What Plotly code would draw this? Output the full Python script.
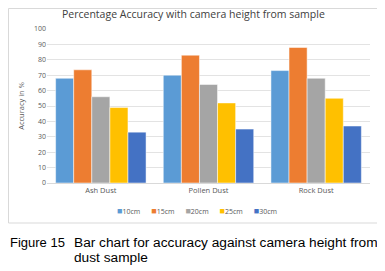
import plotly.graph_objects as go

categories = ["Ash Dust", "Pollen Dust", "Rock Dust"]
series_names = ["10cm", "15cm", "20cm", "25cm", "30cm"]
v10 = [68, 70, 73]
v15 = [73.5, 83, 88]
v20 = [56, 64, 68]
v25 = [49, 52, 55]
v30 = [33, 35, 37]
colors = ["#5B9BD5", "#ED7D31", "#A5A5A5", "#FFC000", "#4472C4"]

fig = go.Figure()
for name, vals, c in zip(series_names, [v10, v15, v20, v25, v30], colors):
    fig.add_trace(go.Bar(x=categories, y=vals, name=name, showlegend=False,
                         marker=dict(color=c, line=dict(color="white", width=0.5))))

# page has an 8px body margin, so the figure is drawn 8px smaller and offset
OFF = 8
W, H = 385 - OFF, 271 - OFF
L = 47 - OFF
T = 29 - OFF
R = 385 - 370
B = H - (183 - OFF)
pw = W - L - R
ph = H - T - B

def px2x(p):
    return (p - OFF - L) / pw

def py2y(p):
    return (H - B - (p - OFF)) / ph

legend_text = "&nbsp;" * 6
legend_text = legend_text.join(
    f"<span style='color:{c};font-size:9px'>■</span>{n}" for n, c in zip(series_names, colors))

cap_font = dict(family="Liberation Sans, Arial, sans-serif", size=13, color="black")
cap_font2 = dict(family="Liberation Sans, Arial, sans-serif", size=13.7, color="black")

fig.update_layout(
    width=W, height=H,
    margin=dict(l=L, r=R, t=T, b=B, autoexpand=False),
    paper_bgcolor="white", plot_bgcolor="white",
    barmode="group", bargap=0.16, bargroupgap=0,
    font=dict(family="Open Sans, Liberation Sans, sans-serif", color="#595959"),
    showlegend=False,
    xaxis=dict(tickfont=dict(size=7.5, color="#595959"), showline=True,
               linecolor="#d9d9d9", linewidth=1, ticks=""),
    yaxis=dict(range=[0, 100], dtick=10, tickfont=dict(size=7, color="#595959"),
               gridcolor="#e3e3e3", gridwidth=1, zeroline=False,
               title=dict(text="Accuracy in %", font=dict(size=7.5, color="#595959"), standoff=8)),
    annotations=[
        dict(text="Percentage Accuracy with camera height from sample", xref="paper", yref="paper",
             x=px2x(193.5), y=py2y(14), xanchor="center", yanchor="middle", showarrow=False,
             font=dict(size=10.5, color="#404040")),
        dict(text=legend_text, xref="paper", yref="paper", x=px2x(197), y=py2y(210),
             xanchor="center", yanchor="middle", showarrow=False,
             font=dict(size=7, color="#595959")),
        dict(text="Figure 15", xref="paper", yref="paper", x=px2x(8), y=py2y(242),
             xanchor="left", yanchor="middle", showarrow=False, font=cap_font),
        dict(text="Bar chart for accuracy against camera height from",
             xref="paper", yref="paper", x=px2x(72), y=py2y(242),
             xanchor="left", yanchor="middle", showarrow=False, font=cap_font2),
        dict(text="dust sample",
             xref="paper", yref="paper", x=px2x(72), y=py2y(257.5),
             xanchor="left", yanchor="middle", showarrow=False, font=cap_font2),
    ],
    shapes=[dict(type="rect", xref="paper", yref="paper",
                 x0=px2x(8.5), x1=px2x(379.5), y0=py2y(223), y1=py2y(8.5),
                 line=dict(color="#d9d9d9", width=1), layer="below")],
)

fig.write_html("out.html")
